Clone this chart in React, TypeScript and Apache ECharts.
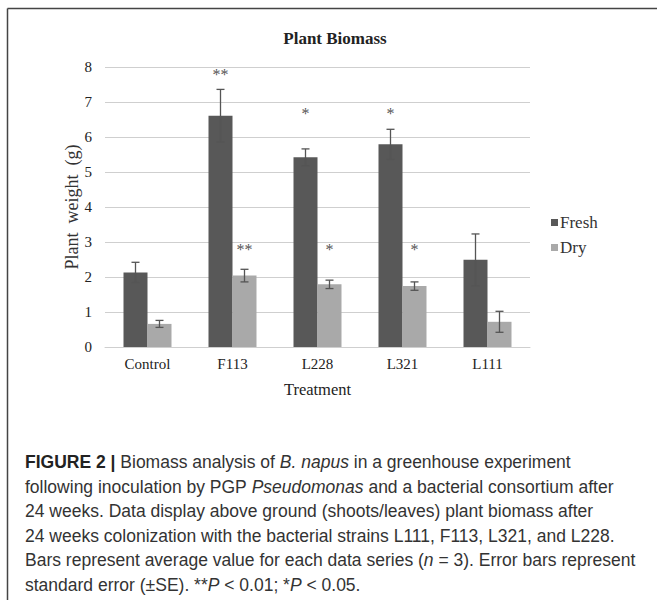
import React, { useEffect, useRef } from "react";
import * as echarts from "echarts";

const categories = ["Control", "F113", "L228", "L321", "L111"];
const freshMean = [2.13, 6.61, 5.42, 5.79, 2.49];
const freshSE = [0.29, 0.75, 0.24, 0.43, 0.74];
const dryMean = [0.66, 2.04, 1.79, 1.74, 0.72];
const drySE = [0.1, 0.18, 0.12, 0.12, 0.3];
const freshSig = ["", "**", "*", "*", ""];
const freshSigAt = [0, 7.78, 6.66, 6.66, 0];
const drySig = ["", "**", "*", "*", ""];
const drySigAt = [0, 2.78, 2.78, 2.78, 0];
const yTicks = { min: 0, max: 8, interval: 1 };

const captionLines = [
  "{b|FIGURE 2 |} Biomass analysis of {i|B. napus} in a greenhouse experiment",
  "following inoculation by PGP {i|Pseudomonas} and a bacterial consortium after",
  "24 weeks. Data display above ground (shoots/leaves) plant biomass after",
  "24 weeks colonization with the bacterial strains L111, F113, L321, and L228.",
  "Bars represent average value for each data series ({i|n} = 3). Error bars represent",
  "standard error (\u00b1SE). **{i|P} < 0.01; *{i|P} < 0.05.",
];

const FRESH = "#585858";
const DRY = "#a9a9a9";
const SERIF = "'Liberation Serif', 'Times New Roman', serif";
const CAP = "'Liberation Sans', Arial, sans-serif";

export default function App() {
  const ref = useRef<HTMLDivElement>(null);
  useEffect(() => {
    if (!ref.current) return;
    const chart = echarts.init(ref.current, undefined, { renderer: "svg" });
    const barW = 24;

    const errorSeries = (means: number[], ses: number[], offset: number) => ({
      type: "custom",
      z: 10,
      silent: true,
      data: means.map((m, i) => [i, m, ses[i]]),
      renderItem: (params: any, api: any) => {
        const i = api.value(0);
        const m = api.value(1);
        const se = api.value(2);
        const top = api.coord([i, m + se]);
        const bot = api.coord([i, m - se]);
        const x = top[0] + offset;
        const cap = 4;
        const style = { stroke: "#555", lineWidth: 1.3 };
        return {
          type: "group",
          children: [
            { type: "line", shape: { x1: x, y1: top[1], x2: x, y2: bot[1] }, style },
            { type: "line", shape: { x1: x - cap, y1: top[1], x2: x + cap, y2: top[1] }, style },
            { type: "line", shape: { x1: x - cap, y1: bot[1], x2: x + cap, y2: bot[1] }, style },
          ],
        };
      },
    });

    const sigSeries = (labels: string[], at: number[], offset: number) => ({
      type: "custom",
      z: 11,
      silent: true,
      data: labels.map((l, i) => [i, at[i], l]),
      renderItem: (params: any, api: any) => {
        const i = api.value(0);
        const p = api.coord([i, api.value(1)]);
        const txt = labels[params.dataIndex];
        if (!txt) return null;
        return {
          type: "text",
          style: {
            text: txt,
            x: p[0] + offset,
            y: p[1],
            align: "center",
            verticalAlign: "middle",
            fontSize: 16,
            fontFamily: SERIF,
            fill: "#555",
          },
        };
      },
    });

    const captionTop = 462;
    const lineH = 24.6;

    chart.setOption({
      animation: false,
      backgroundColor: "#ffffff",
      title: {
        text: "Plant Biomass",
        left: 330,
        top: 25,
        textAlign: "center",
        textStyle: { fontFamily: SERIF, fontSize: 17, fontWeight: "bold", color: "#222" },
      },
      legend: {
        orient: "vertical",
        left: 546,
        top: 209,
        itemWidth: 7,
        itemHeight: 7,
        itemGap: 8,
        icon: "rect",
        textStyle: { fontFamily: SERIF, fontSize: 17, color: "#333", padding: [0, 0, 0, -3] },
        data: ["Fresh", "Dry"],
      },
      grid: { left: 105, right: 127, top: 67, bottom: 253, containLabel: false },
      xAxis: {
        type: "category",
        data: categories,
        name: "Treatment",
        nameLocation: "middle",
        nameGap: 34,
        nameMoveOverlap: false,
        nameTextStyle: { fontFamily: SERIF, fontSize: 16.5, color: "#222" },
        axisLine: { lineStyle: { color: "#cfcfcf", width: 1 } },
        axisTick: { show: false },
        axisLabel: { fontFamily: SERIF, fontSize: 15, color: "#222", margin: 9 },
      },
      yAxis: {
        type: "value",
        min: yTicks.min,
        max: yTicks.max,
        interval: yTicks.interval,
        name: "Plant  weight  (g)",
        nameLocation: "middle",
        nameGap: 24,
        nameMoveOverlap: false,
        nameTextStyle: { fontFamily: SERIF, fontSize: 18, color: "#333" },
        axisLine: { show: false },
        axisTick: { show: false },
        axisLabel: { fontFamily: SERIF, fontSize: 15, color: "#222", margin: 13 },
        splitLine: { lineStyle: { color: "#cfcfcf", width: 1 } },
      },
      series: [
        {
          name: "Fresh",
          type: "bar",
          data: freshMean,
          barWidth: barW,
          barGap: "0%",
          itemStyle: { color: FRESH },
        },
        {
          name: "Dry",
          type: "bar",
          data: dryMean,
          barWidth: barW,
          barGap: "0%",
          itemStyle: { color: DRY },
        },
        errorSeries(freshMean, freshSE, -barW / 2),
        errorSeries(dryMean, drySE, barW / 2),
        sigSeries(freshSig, freshSigAt, -barW / 2),
        sigSeries(drySig, drySigAt, barW / 2),
      ],
      graphic: [
        {
          type: "line",
          shape: { x1: 7.5, y1: 8.5, x2: 7.5, y2: 600 },
          style: { stroke: "#444", lineWidth: 1.5 },
        },
        {
          type: "line",
          shape: { x1: 7.5, y1: 8.5, x2: 657, y2: 8.5 },
          style: { stroke: "#444", lineWidth: 1.5 },
        },
        ...captionLines.map((t, k) => ({
          type: "text",
          x: 25,
          y: captionTop + k * lineH,
          style: {
            text: t,
            fontFamily: CAP,
            fontSize: 17.5,
            fill: "#333",
            verticalAlign: "middle",
            rich: {
              b: { fontFamily: CAP, fontSize: 17.5, fontWeight: "bold", fill: "#222" },
              i: { fontFamily: CAP, fontSize: 17.5, fontStyle: "italic", fill: "#333" },
            },
          },
        })),
      ],
    });
    return () => chart.dispose();
  }, []);
  return (
    <div
      ref={ref}
      style={{ position: "fixed", left: 0, top: 0, width: 657, height: 600, background: "#fff" }}
    />
  );
}
